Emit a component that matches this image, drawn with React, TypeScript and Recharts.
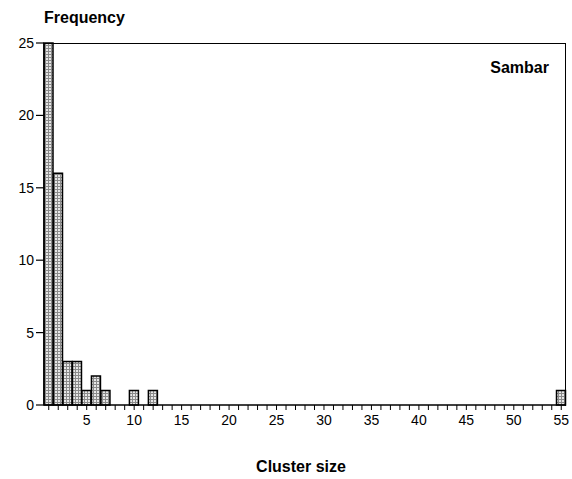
import { BarChart, Bar, XAxis, YAxis } from "recharts";

// cluster sizes with at least one observation, and how often they occurred
const observedSizes = [1, 2, 3, 4, 5, 6, 7, 10, 12, 55];
const observedCounts = [25, 16, 3, 3, 1, 2, 1, 1, 1, 1];
const maxSize = 55;
const yTicks = [0, 5, 10, 15, 20, 25];

const data = Array.from({ length: maxSize }, (_, i) => {
  const size = i + 1;
  const idx = observedSizes.indexOf(size);
  return { size, count: idx >= 0 ? observedCounts[idx] : null };
});

const font = "Arial, 'Liberation Sans', Helvetica, sans-serif";

export default function App() {
  return (
    <div style={{ position: "absolute", left: 0, top: 0, width: 572, height: 479, background: "#fff", fontFamily: font }}>
      <BarChart
        width={572}
        height={479}
        data={data}
        margin={{ top: 43, right: 6, bottom: 0, left: 0 }}
        barCategoryGap={0}
      >
        <defs>
          <pattern id="dots" width="3" height="3" patternUnits="userSpaceOnUse">
            <rect width="3" height="3" fill="#e6e6e6" />
            <rect width="3" height="1" fill="#8a8a8a" />
            <rect width="1" height="3" fill="#8a8a8a" />
          </pattern>
        </defs>
        <XAxis
          dataKey="size"
          interval={0}
          height={74}
          tickSize={5}
          tickMargin={5}
          axisLine={{ stroke: "#000", strokeWidth: 1.5 }}
          tickLine={{ stroke: "#000" }}
          tick={{ fill: "#000", fontSize: 14, fontFamily: font }}
          tickFormatter={(v) => (Number(v) % 5 === 0 ? String(v) : "")}
        />
        <YAxis
          domain={[0, 25]}
          ticks={yTicks}
          width={44}
          tickSize={8}
          tickMargin={2}
          axisLine={{ stroke: "#000", strokeWidth: 1.5 }}
          tickLine={{ stroke: "#000", strokeWidth: 1.2 }}
          tick={{ fill: "#000", fontSize: 14, fontFamily: font }}
        />
        <Bar dataKey="count" fill="url(#dots)" stroke="#000" strokeWidth={1.5} isAnimationActive={false} />
      </BarChart>
      {/* top and right edges of the plot frame */}
      <div
        style={{
          position: "absolute",
          left: 44,
          top: 43,
          width: 521,
          height: 362,
          borderTop: "1px solid #000",
          borderRight: "1px solid #000",
          pointerEvents: "none",
        }}
      />
      <div style={{ position: "absolute", left: 44, top: 9, fontSize: 16, fontWeight: "bold" }}>Frequency</div>
      <div style={{ position: "absolute", right: 23, top: 59, fontSize: 16, fontWeight: "bold" }}>Sambar</div>
      <div style={{ position: "absolute", left: 0, width: 602, top: 458, textAlign: "center", fontSize: 16, fontWeight: "bold" }}>
        Cluster size
      </div>
    </div>
  );
}
